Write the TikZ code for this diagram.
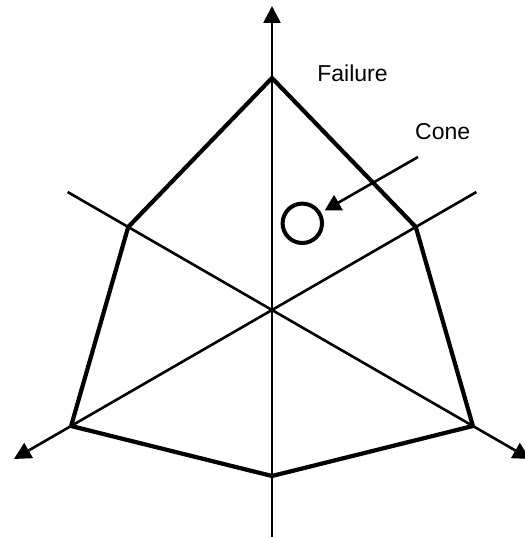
\documentclass[tikz,border=0pt]{standalone}
\usepackage{fontspec}
\setmainfont{Liberation Sans}
\usetikzlibrary{arrows.meta}
\begin{document}
\begin{tikzpicture}[x=1pt,y=-1pt,
  axis/.style={line width=2.6pt},
  axisarrow/.style={axis,-{Triangle[length=17pt,width=17pt]}},
  hexline/.style={line width=4.2pt},
  lbl/.style={font=\fontsize{23}{27}\selectfont,inner sep=0pt},
  pointer/.style={line width=2.6pt,-{Triangle[length=16pt,width=17pt]},shorten >=4pt}]
\useasboundingbox (0,0) rectangle (524,537);
% centre and axis ends
\coordinate (C) at (272,310);
\coordinate (Atop) at (272,6);
\coordinate (Abot) at (272,545);
\coordinate (Aul) at (67.6,192);
\coordinate (Aur) at (476.4,192);
\coordinate (All) at (13.9,459);
\coordinate (Alr) at (530.1,459);
% polygon vertices
\coordinate (Vt) at (272,78);
\coordinate (Vur) at (415.8,227);
\coordinate (Vlr) at (472.9,426);
\coordinate (Vb) at (272,476);
\coordinate (Vll) at (71.1,426);
\coordinate (Vul) at (128.2,227);
% axes
\draw[axisarrow] (Abot) -- (Atop);
\draw[axisarrow] (Aul) -- (Alr);
\draw[axisarrow] (Aur) -- (All);
% polygon
\draw[hexline] (Vt) -- (Vur) -- (Vlr) -- (Vb) -- (Vll) -- (Vul) -- cycle;
% labels
\node[lbl,anchor=base] (failure) at (352.5,82) {Failure};
\node[lbl,anchor=base west] (cone) at (415,140) {Cone};
% cone circle and pointer
\node[circle,draw,line width=4pt,minimum size=39.4pt,inner sep=0pt] (circ) at (302.3,223.3) {};
\coordinate (cs) at (418,157);
\draw[pointer] (cs) -- (circ);
\end{tikzpicture}
\end{document}
